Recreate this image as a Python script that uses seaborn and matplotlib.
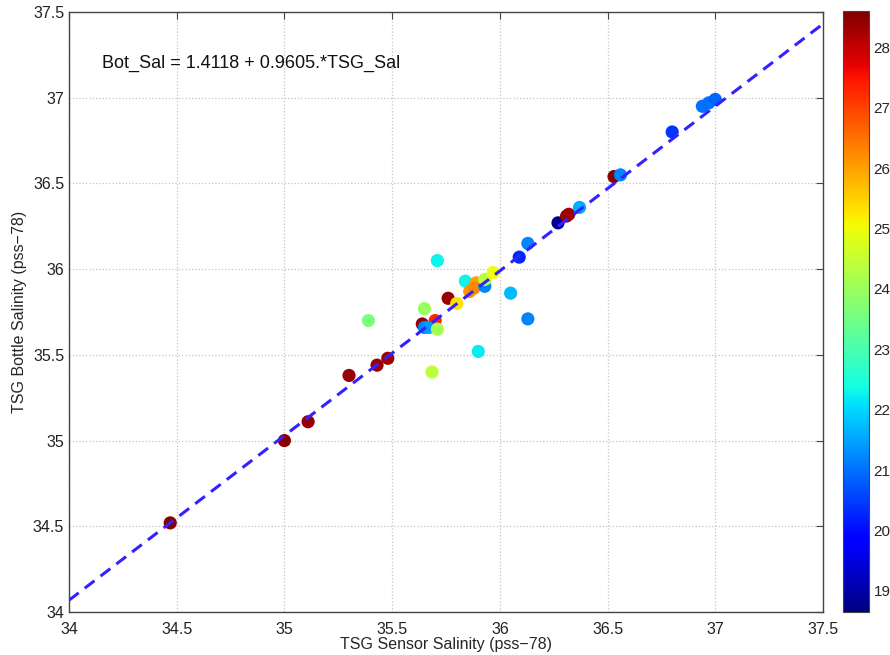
import numpy as np
import pandas as pd
import matplotlib
matplotlib.use('Agg')
import matplotlib.pyplot as plt
import matplotlib.ticker as mticker
import seaborn as sns

sns.set_style('white')
plt.rcParams['font.family'] = ['Liberation Sans', 'DejaVu Sans']

# TSG sensor salinity, bottle salinity, temperature (colour)
tsg_sal = [34.47, 35.00, 35.11, 35.30, 35.43, 35.48, 35.39, 35.65, 35.64, 35.70,
           35.65, 35.67, 35.71, 35.685, 35.71, 35.84, 35.89, 35.86, 35.88, 35.93,
           35.93, 35.97, 35.76, 35.80, 36.05, 36.13, 35.90, 36.09, 36.13, 36.27,
           36.31, 36.32, 36.37, 36.53, 36.56, 36.80, 36.94, 36.97, 37.00]
bot_sal = [34.52, 35.00, 35.11, 35.38, 35.44, 35.48, 35.70, 35.77, 35.68, 35.70,
           35.66, 35.66, 35.65, 35.40, 36.05, 35.93, 35.92, 35.87, 35.89, 35.90,
           35.94, 35.98, 35.83, 35.80, 35.86, 35.71, 35.52, 36.07, 36.15, 36.27,
           36.31, 36.32, 36.36, 36.54, 36.55, 36.80, 36.95, 36.97, 36.99]
temp = [28.5, 28.5, 28.4, 28.4, 28.4, 28.3, 23.6, 24.0, 28.4, 27.3,
        21.2, 21.4, 24.1, 24.4, 22.3, 22.3, 26.0, 26.1, 26.3, 21.2,
        24.4, 25.0, 28.4, 25.3, 21.7, 21.2, 22.2, 20.3, 21.2, 18.8,
        28.4, 28.3, 21.6, 28.5, 21.2, 20.4, 21.0, 21.0, 20.9]

intercept = 1.4118
slope = 0.9605
vmin, vmax = 18.65, 28.6

df = pd.DataFrame({'tsg': tsg_sal, 'bot': bot_sal, 'temp': temp})

fig = plt.figure(figsize=(8.9, 6.55), dpi=100)
ax = fig.add_axes([0.0775, 0.0656, 0.8472, 0.9161])
cax = fig.add_axes([0.947, 0.0656, 0.029, 0.9175])

jet = plt.get_cmap('jet')
norm = plt.Normalize(vmin, vmax)
sns.scatterplot(data=df, x='tsg', y='bot', hue='temp', palette=jet,
                hue_norm=norm, s=90, linewidth=0, legend=False, ax=ax, zorder=3)

xl = np.array([34, 37.5])
ax.plot(xl, intercept + slope * xl, color='#3322ff', lw=2.2,
        dashes=(4, 2.5), zorder=4)

ax.set_xlim(34, 37.5)
ax.set_ylim(34, 37.5)
ticks = np.arange(34, 37.51, 0.5)
ax.set_xticks(ticks)
ax.set_yticks(ticks)
fmt = mticker.FormatStrFormatter('%g')
ax.xaxis.set_major_formatter(fmt)
ax.yaxis.set_major_formatter(fmt)
ax.tick_params(direction='in', top=True, right=True, labelsize=11.5,
               length=5, color='#444444', labelcolor='#222222')
ax.tick_params(axis='x', pad=7)
ax.grid(True, linestyle=':', color='#c4c4c4', linewidth=0.9)
for sp in ax.spines.values():
    sp.set_color('#444444')
    sp.set_linewidth(1.0)

ax.set_xlabel('TSG Sensor Salinity (pss\u221278)', fontsize=11.5, labelpad=0)
ax.set_ylabel('TSG Bottle Salinity (pss\u221278)', fontsize=11.5, labelpad=4)
ax.text(34.155, 37.2, 'Bot_Sal = 1.4118 + 0.9605.*TSG_Sal', fontsize=13,
        va='center', ha='left', color='#111111')

sm = plt.cm.ScalarMappable(cmap=jet, norm=norm)
cb = fig.colorbar(sm, cax=cax)
cb.set_ticks(range(19, 29))
cax.tick_params(direction='in', left=True, right=True, labelsize=11,
                length=4, color='#333333')
cb.outline.set_edgecolor('#444444')

fig.savefig('out.png', dpi=100)
